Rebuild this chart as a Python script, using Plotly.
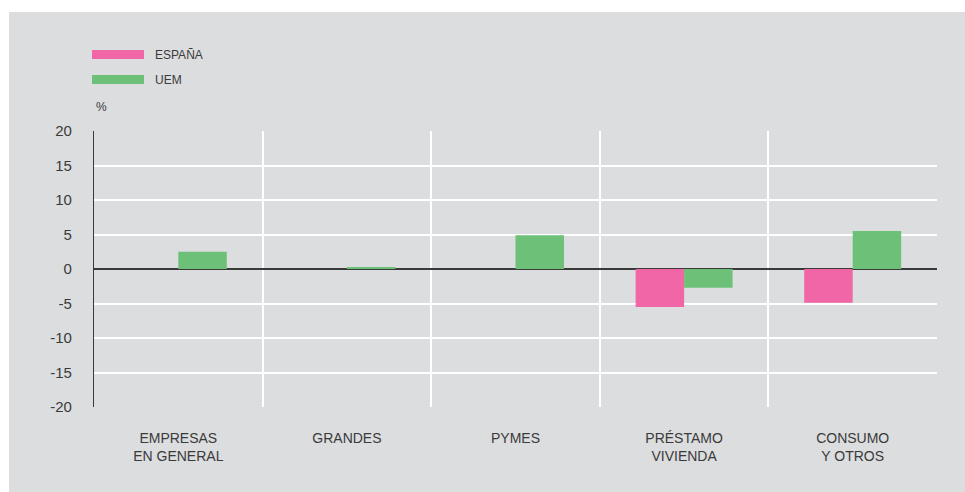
import plotly.graph_objects as go

categories = ["EMPRESAS<br>EN GENERAL", "GRANDES", "PYMES", "PRÉSTAMO<br>VIVIENDA", "CONSUMO<br>Y OTROS"]
espana = [None, None, None, -5.5, -4.9]
uem = [2.5, 0.2, 4.9, -2.7, 5.5]
y_ticks = [20, 15, 10, 5, 0, -5, -10, -15, -20]

PINK = "#F066A6"
GREEN = "#6CC077"
BG = "#DCDDDF"
TXT = "#3a3a3a"
FONT = "Liberation Sans, Arial, sans-serif"

W, H = 965, 492
L, R, T, B = 94, 28, 131, 85
pw, ph = W - L - R, H - T - B

def px(x):
    return (x - L) / pw

def py(y):
    return (H - B - y) / ph

fig = go.Figure()
fig.add_bar(x=categories, y=espana, name="ESPAÑA", marker=dict(color=PINK, line=dict(width=0)))
fig.add_bar(x=categories, y=uem, name="UEM", marker=dict(color=GREEN, line=dict(width=0)))

shapes = [
    dict(type="rect", xref="paper", yref="paper", x0=px(9), x1=px(W + 5), y0=py(12), y1=py(H + 5),
         fillcolor=BG, line=dict(width=0), layer="below"),
    dict(type="rect", xref="paper", yref="paper", x0=px(92), x1=px(144), y0=py(50), y1=py(59),
         fillcolor=PINK, line=dict(width=0)),
    dict(type="rect", xref="paper", yref="paper", x0=px(92), x1=px(144), y0=py(75), y1=py(84),
         fillcolor=GREEN, line=dict(width=0)),
]
annotations = [
    dict(text="ESPAÑA", xref="paper", yref="paper", x=px(153), y=py(55), xanchor="left", yanchor="middle",
         showarrow=False, font=dict(size=12, color=TXT, family=FONT)),
    dict(text="UEM", xref="paper", yref="paper", x=px(153), y=py(80), xanchor="left", yanchor="middle",
         showarrow=False, font=dict(size=12, color=TXT, family=FONT)),
    dict(text="%", xref="paper", yref="paper", x=px(94), y=py(107), xanchor="left", yanchor="middle",
         showarrow=False, font=dict(size=12, color=TXT, family=FONT)),
]

fig.update_layout(
    width=W, height=H,
    margin=dict(l=L, r=R, t=T, b=B, pad=0),
    paper_bgcolor="white",
    plot_bgcolor="rgba(0,0,0,0)",
    barmode="group",
    bargap=0.425,
    bargroupgap=0,
    showlegend=False,
    shapes=shapes,
    annotations=annotations,
    font=dict(family=FONT, color=TXT, size=14),
    xaxis=dict(
        type="category",
        tickson="boundaries",
        showgrid=True, gridcolor="white", gridwidth=2,
        ticks="", showline=False, zeroline=False,
        tickfont=dict(size=14, color=TXT, family=FONT),
        ticklabelstandoff=21,
        range=[-0.5, 4.5],
    ),
    yaxis=dict(
        range=[-20, 20],
        tickvals=y_ticks,
        ticktext=[str(v) for v in y_ticks],
        showgrid=True, gridcolor="white", gridwidth=2,
        zeroline=True, zerolinecolor="#3a3a3a", zerolinewidth=1.5,
        showline=True, linecolor="#3a3a3a", linewidth=1.2,
        ticks="", tickfont=dict(size=15, color=TXT, family=FONT),
        ticklabelstandoff=18,
    ),
)

fig.write_html("out.html")
